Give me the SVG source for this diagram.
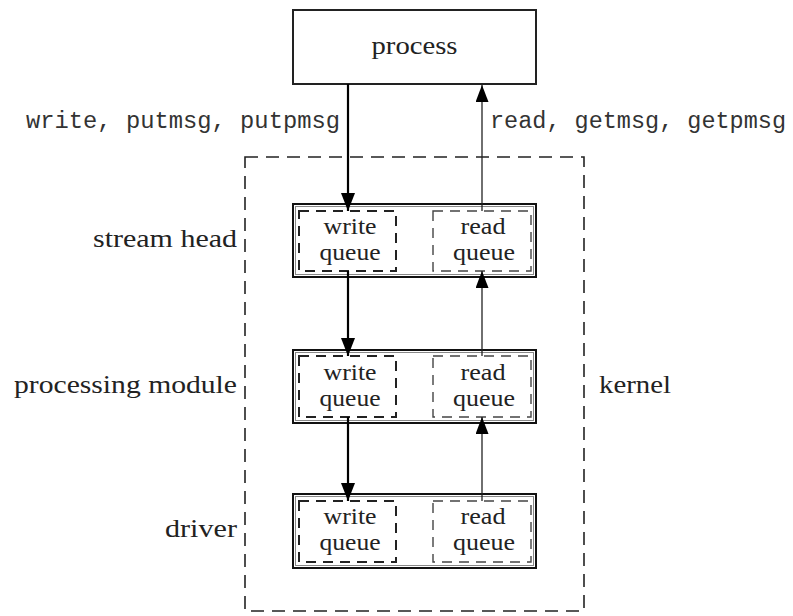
<svg xmlns="http://www.w3.org/2000/svg" width="793" height="616" viewBox="0 0 793 616">
<style>
.serif{font-family:"Liberation Serif","Times New Roman",serif;font-size:26px;fill:#222}
.q{font-family:"Liberation Serif","Times New Roman",serif;font-size:23px;fill:#222}
.mono{font-family:"Liberation Mono","Courier New",monospace;font-size:23px;fill:#333}
.box{fill:#fff;stroke:#111;stroke-width:2}
.inner{fill:none;stroke:#888;stroke-width:1}
.wq{fill:none;stroke:#222;stroke-width:2;stroke-dasharray:10 7}
.rq{fill:none;stroke:#444;stroke-width:1.4;stroke-dasharray:10 7}
.kern{fill:none;stroke:#222;stroke-width:1.6;stroke-dasharray:13 8}
.w{fill:none;stroke:#000;stroke-width:2.2;marker-end:url(#ah)}
.r{fill:none;stroke:#222;stroke-width:1.3;marker-end:url(#ah2)}
</style>
<defs>
<marker id="ah" markerUnits="userSpaceOnUse" markerWidth="18" markerHeight="14" refX="18" refY="7" orient="auto">
<path d="M0,0 L18,7 L0,14 z" fill="#000"/>
</marker>
<marker id="ah2" markerUnits="userSpaceOnUse" markerWidth="17" markerHeight="13" refX="17" refY="6.5" orient="auto">
<path d="M0,0 L17,6.5 L0,13 z" fill="#000"/>
</marker>
</defs>
<rect fill="#fff" width="793" height="616"/>

<g id="kernel">
<rect class="kern" x="245" y="157" width="339" height="454"/>
<text class="serif" x="599" y="393" textLength="72" lengthAdjust="spacingAndGlyphs">kernel</text>
</g>

<g id="process">
<rect x="293" y="10" width="243" height="74" fill="#fff" stroke="#222" stroke-width="2"/>
<text class="serif" x="414.5" y="54" text-anchor="middle" textLength="86" lengthAdjust="spacingAndGlyphs">process</text>
</g>

<g id="stream-head">
<rect class="box" x="293" y="204" width="243" height="73"/>
<rect class="inner" x="295.5" y="206.5" width="238" height="68"/>
<rect class="wq" x="299" y="211" width="97" height="60"/>
<rect class="rq" x="433" y="211" width="98" height="60"/>
<text class="q" x="350" y="234" text-anchor="middle" textLength="53" lengthAdjust="spacingAndGlyphs">write</text>
<text class="q" x="350" y="260" text-anchor="middle" textLength="61" lengthAdjust="spacingAndGlyphs">queue</text>
<text class="q" x="483" y="234" text-anchor="middle" textLength="45" lengthAdjust="spacingAndGlyphs">read</text>
<text class="q" x="484" y="260" text-anchor="middle" textLength="62" lengthAdjust="spacingAndGlyphs">queue</text>
<text class="serif" x="237" y="247" text-anchor="end" textLength="144" lengthAdjust="spacingAndGlyphs">stream head</text>
</g>

<g id="processing-module">
<rect class="box" x="293" y="350" width="243" height="73"/>
<rect class="inner" x="295.5" y="352.5" width="238" height="68"/>
<rect class="wq" x="299" y="356" width="97" height="61"/>
<rect class="rq" x="433" y="356" width="98" height="61"/>
<text class="q" x="350" y="380" text-anchor="middle" textLength="53" lengthAdjust="spacingAndGlyphs">write</text>
<text class="q" x="350" y="406" text-anchor="middle" textLength="61" lengthAdjust="spacingAndGlyphs">queue</text>
<text class="q" x="483" y="380" text-anchor="middle" textLength="45" lengthAdjust="spacingAndGlyphs">read</text>
<text class="q" x="484" y="406" text-anchor="middle" textLength="62" lengthAdjust="spacingAndGlyphs">queue</text>
<text class="serif" x="237" y="393" text-anchor="end" textLength="223" lengthAdjust="spacingAndGlyphs">processing module</text>
</g>

<g id="driver">
<rect class="box" x="293" y="494" width="243" height="74"/>
<rect class="inner" x="295.5" y="496.5" width="238" height="69"/>
<rect class="wq" x="299" y="501" width="97" height="61"/>
<rect class="rq" x="433" y="501" width="98" height="61"/>
<text class="q" x="350" y="524" text-anchor="middle" textLength="53" lengthAdjust="spacingAndGlyphs">write</text>
<text class="q" x="350" y="550" text-anchor="middle" textLength="61" lengthAdjust="spacingAndGlyphs">queue</text>
<text class="q" x="483" y="524" text-anchor="middle" textLength="45" lengthAdjust="spacingAndGlyphs">read</text>
<text class="q" x="484" y="550" text-anchor="middle" textLength="62" lengthAdjust="spacingAndGlyphs">queue</text>
<text class="serif" x="237" y="537" text-anchor="end" textLength="72" lengthAdjust="spacingAndGlyphs">driver</text>
</g>

<g id="connectors">
<path class="w" d="M348,84 V211"/>
<path class="w" d="M348,271 V356"/>
<path class="w" d="M348,417 V501"/>
<path class="r" d="M482,211 V85"/>
<path class="r" d="M482,356 V271"/>
<path class="r" d="M482,501 V417"/>
<text class="mono" x="340" y="128" text-anchor="end" textLength="314" lengthAdjust="spacingAndGlyphs">write, putmsg, putpmsg</text>
<text class="mono" x="490" y="128" textLength="296" lengthAdjust="spacingAndGlyphs">read, getmsg, getpmsg</text>
</g>
</svg>
